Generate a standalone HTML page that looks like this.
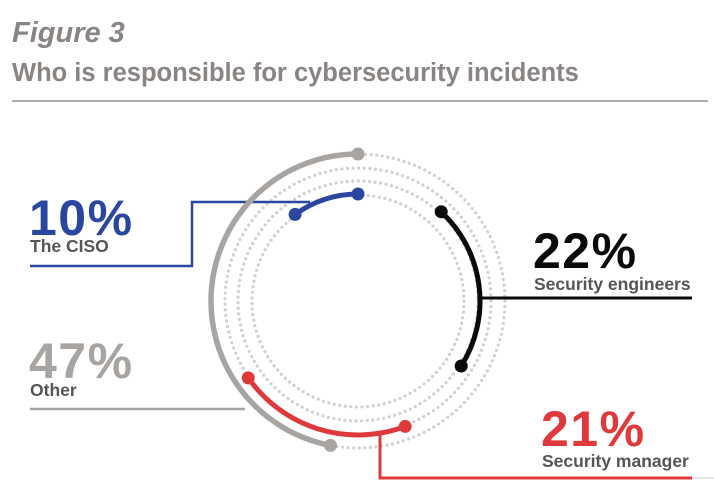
<!DOCTYPE html>
<html><head><meta charset="utf-8">
<style>
body{margin:0;background:#fff;}
svg{display:block;font-family:"Liberation Sans",Arial,sans-serif;}
</style></head>
<body>
<svg width="714" height="500" viewBox="0 0 714 500">
  <text x="12" y="42" font-size="29" font-weight="bold" font-style="italic" fill="#8a8583">Figure 3</text>
  <text x="12" y="81" font-size="25.5" font-weight="bold" fill="#8a8583">Who is responsible for cybersecurity incidents</text>
  <rect x="12" y="100" width="696" height="2" fill="#b0aca8"/>
  <g id="rings"></g>
  <g id="leaders"></g>
  <g id="arcs"></g>
  <g id="labels"></g>
</svg>
<script>
const categories = ["The CISO", "Security engineers", "Other", "Security manager"];
const values = [10, 22, 47, 21];
const valueLabels = ["10%", "22%", "47%", "21%"];

const NS = "http://www.w3.org/2000/svg";
const cx = 358, cy = 301;
const colors = ["#2a47a0", "#0a0a0a", "#a8a4a1", "#e0393b"];
const radii = [107, 122, 147, 134];
const startAng = [-90, -47, -90, 145];
const dir = [-1, 1, -1, -1];
const widths = [5, 5, 5.5, 5];
const deg2 = v => v * 3.6;

function pt(r, a){ const t = a*Math.PI/180; return [cx + r*Math.cos(t), cy + r*Math.sin(t)]; }
function el(tag, attrs, parent){ const e = document.createElementNS(NS, tag); for (const k in attrs) e.setAttribute(k, attrs[k]); parent.appendChild(e); return e; }

const ringG = document.getElementById("rings");
[106, 120, 133, 147].forEach(r => {
  const c = el("circle", {cx, cy, r, fill:"none", stroke:"#d3d0ce", "stroke-width":3.2, "stroke-linecap":"round", "stroke-dasharray":"0 5.6"}, ringG);
  
  
});

const lg = document.getElementById("leaders");
const leaders = [
  {d:"M310 202 H192 V266 H30", c:colors[0], w:2.5},
  {d:"M481 298 H692", c:colors[1], w:3},
  {d:"M245 409 H30", c:colors[2], w:2.5},
  {d:"M380 434 V478 H692", c:colors[3], w:3}
];
leaders.forEach((L, i) => {
  const p = el("path", {d:L.d, fill:"none", stroke:L.c, "stroke-width":L.w}, lg);
  
  
});
el("path", {d:"M692 478 H714", stroke:"#cfcccb", "stroke-width":1}, lg);

const ag = document.getElementById("arcs");
values.forEach((v, i) => {
  const r = radii[i], a0 = startAng[i], a1 = a0 + dir[i]*deg2(v);
  const p0 = pt(r, a0), p1 = pt(r, a1);
  const large = deg2(v) > 180 ? 1 : 0;
  const sweep = dir[i] > 0 ? 1 : 0;
  const path = el("path", {d:`M${p0[0]} ${p0[1]} A${r} ${r} 0 ${large} ${sweep} ${p1[0]} ${p1[1]}`, fill:"none", stroke:colors[i], "stroke-width":widths[i]}, ag);
  
  
  [p0, p1].forEach(p => {
    const d = el("circle", {cx:p[0], cy:p[1], r:6.5, fill:colors[i]}, ag);
    
    
  });
});

const lbg = document.getElementById("labels");
const labPos = [[29, 235, 252], [533, 268, 290], [29, 378, 396], [541, 446, 467]];
values.forEach((v, i) => {
  const t = el("text", {x:labPos[i][0], y:labPos[i][1], "font-size":50, "font-weight":"bold", fill:colors[i], "letter-spacing":"1.5"}, lbg);
  t.textContent = valueLabels[i];
  
  
  const c = el("text", {x:labPos[i][0]+1, y:labPos[i][2], "font-size":17.5, "font-weight":"bold", fill:"#555"}, lbg);
  c.textContent = categories[i];
  
  
});
</script>
</body></html>
